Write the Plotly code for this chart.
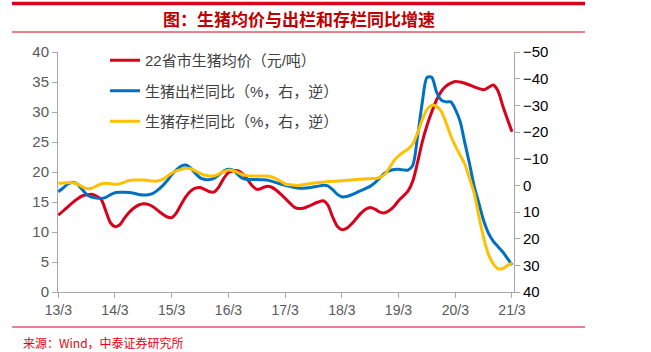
import pandas as pd
import plotly.graph_objects as go

# ---------------- data (monthly, 2013/3 .. 2021/3) ----------------
months = pd.date_range("2013-03-01", "2021-03-01", freq="MS")

price_22 = [  # 22省市生猪均价（元/吨）, left axis
    12.8, 13.5, 14.2, 14.9, 15.5, 16.0, 16.2, 16.3, 16.0, 15.5, 13.5, 11.5,
    10.9, 11.2, 12.3, 13.3, 14.0, 14.5, 14.7, 14.6, 14.2, 13.6, 13.0, 12.5,
    12.4, 13.2, 14.6, 15.9, 16.8, 17.3, 17.4, 17.1, 16.7, 16.7, 17.6, 19.0,
    19.9, 20.2, 20.2, 19.7, 18.8, 17.7, 17.1, 17.3, 17.6, 17.5, 17.0, 16.3,
    15.6, 14.8, 14.1, 13.9, 14.0, 14.3, 14.7, 15.0, 15.2, 14.5, 12.5, 10.9,
    10.4, 10.6, 11.3, 12.2, 13.1, 13.8, 14.1, 13.8, 13.3, 13.2, 13.6, 14.3,
    15.2, 16.0, 16.8, 18.5, 21.5, 25.0, 27.8, 30.0, 32.0, 33.4, 34.3, 34.8,
    35.1, 35.0, 34.8, 34.5, 34.2, 33.9, 33.7, 34.1, 34.5, 33.5, 31.0, 28.7,
    26.7,
]

slaughter_yoy = [  # 生猪出栏同比（%，右，逆）
    2.4, 1.0, -0.5, -1.2, -0.5, 1.5, 3.5, 4.4, 4.8, 4.9, 4.5, 3.5,
    2.8, 2.6, 2.6, 2.7, 3.0, 3.4, 3.6, 3.5, 3.0, 1.8, 0.2, -1.8,
    -4.0, -5.8, -7.2, -7.6, -6.5, -4.5, -2.8, -2.2, -2.2, -2.7, -4.0, -5.4,
    -6.0, -5.6, -4.0, -2.6, -2.2, -2.2, -2.2, -2.1, -2.0, -1.6, -1.0, -0.5,
    0.0, 0.4, 0.8, 1.1, 1.1, 0.9, 0.6, 0.3, 0.0, 0.2, 1.6, 3.4,
    4.3, 4.2, 3.6, 2.8, 2.0, 1.2, 0.3, -1.0, -2.8, -4.5, -5.4, -5.9,
    -6.0, -5.8, -5.7, -7.5, -18.0, -31.0, -40.5, -40.5, -35.0, -32.0, -31.3, -31.3,
    -28.5, -24.0, -16.0, -8.0, 0.5, 7.0, 13.5, 18.0, 21.0, 23.0, 25.0, 27.5,
    29.9,
]

stock_yoy = [  # 生猪存栏同比（%，右，逆）
    -0.75, -0.9, -1.0, -1.0, -0.5, 0.5, 1.3, 1.1, 0.3, -0.5, -0.8, -0.6,
    -0.4, -0.6, -1.2, -1.8, -2.0, -2.0, -2.0, -1.8, -1.6, -1.6, -2.2, -3.4,
    -4.5, -5.4, -6.0, -6.4, -6.2, -5.4, -4.5, -3.8, -3.5, -3.6, -4.3, -5.2,
    -5.7, -5.5, -4.8, -4.0, -3.6, -3.5, -3.5, -3.5, -3.5, -3.2, -2.5, -1.5,
    -0.5, -0.2, 0.0, 0.0, -0.3, -0.6, -0.9, -1.0, -1.2, -1.4, -1.5, -1.6,
    -1.7, -1.9, -2.0, -2.2, -2.3, -2.4, -2.5, -2.6, -3.0, -4.0, -6.5, -9.3,
    -11.0, -12.4, -13.6, -15.5, -19.5, -24.5, -28.5, -30.0, -29.6, -27.8, -23.5, -18.5,
    -14.8, -11.3, -8.0, -2.5, 3.0, 12.0, 20.0, 26.0, 29.5, 31.3, 31.2, 30.0,
    29.2,
]

tick_years = list(range(2013, 2022))
tick_vals = [f"{y}-03-01" for y in tick_years]
tick_text = [f"{y % 100}/3" for y in tick_years]

names = ["22省市生猪均价（元/吨）", "生猪出栏同比（%，右，逆）", "生猪存栏同比（%，右，逆）"]
colors = ["#D9001B", "#0070C0", "#FFC000"]

# ---------------- figure ----------------
W, H = 651, 352
L, R, T, B = 58, 514, 52, 292  # plot area in pixels


def px(xp):
    return (xp - L) / (R - L)


def py(yp):
    return (B - yp) / (B - T)


fig = go.Figure()
fig.add_trace(go.Scatter(x=months, y=price_22, name=names[0], mode="lines",
                         line=dict(color=colors[0], width=3, shape="spline", smoothing=0.8),
                         legendgroup="a"))
fig.add_trace(go.Scatter(x=months, y=slaughter_yoy, name=names[1], mode="lines",
                         line=dict(color=colors[1], width=3, shape="spline", smoothing=0.8),
                         yaxis="y2", legendgroup="b"))
fig.add_trace(go.Scatter(x=months, y=stock_yoy, name=names[2], mode="lines",
                         line=dict(color=colors[2], width=3, shape="spline", smoothing=0.8),
                         yaxis="y2", legendgroup="c"))

red = "#D9001B"
axis_grey = "#A6A6A6"
num_font = "Liberation Sans, Arial, Noto Sans CJK SC"

fig.update_layout(
    width=W, height=H,
    margin=dict(l=L, r=W - R, t=T, b=H - B, pad=0),
    paper_bgcolor="white", plot_bgcolor="white",
    showlegend=True,
    legend=dict(x=px(105), y=py(44), xanchor="left", yanchor="top",
                font=dict(family=num_font, size=15, color="#404040"),
                bgcolor="rgba(0,0,0,0)", tracegroupgap=8, itemwidth=30),
    title=dict(text="<b>图：生猪均价与出栏和存栏同比增速</b>",
               x=299 / W, y=1 - 20 / H, xref="container", yref="container",
               xanchor="center", yanchor="middle",
               font=dict(family="Noto Sans CJK SC", size=17, color="#C00000")),
    xaxis=dict(type="date", range=["2013-02-27", "2021-03-14"],
               tickmode="array", tickvals=tick_vals, ticktext=tick_text,
               showline=True, linecolor=axis_grey, linewidth=1,
               ticks="outside", ticklen=5, tickcolor=axis_grey,
               showgrid=False, zeroline=False,
               tickfont=dict(family=num_font, size=14, color="#595959")),
    yaxis=dict(range=[0, 40], dtick=5, showline=True, linecolor=axis_grey, linewidth=1,
               ticks="outside", ticklen=5, tickcolor=axis_grey,
               showgrid=False, zeroline=False,
               tickfont=dict(family=num_font, size=15, color="#595959")),
    yaxis2=dict(range=[40, -50], dtick=10, overlaying="y", side="right",
                showline=True, linecolor=axis_grey, linewidth=1,
                ticks="outside", ticklen=5, tickcolor=axis_grey,
                showgrid=False, zeroline=False,
                tickfont=dict(family=num_font, size=15, color="#000000")),
)

# decorative header / footer rules
fig.add_shape(type="line", xref="paper", yref="paper", x0=px(12), x1=px(585),
              y0=py(3.5), y1=py(3.5), line=dict(color=red, width=3.5))
fig.add_shape(type="line", xref="paper", yref="paper", x0=px(12), x1=px(585),
              y0=py(32), y1=py(32), line=dict(color=red, width=1))
fig.add_shape(type="line", xref="paper", yref="paper", x0=px(12), x1=px(585),
              y0=py(327), y1=py(327), line=dict(color=red, width=1))

fig.add_annotation(text="来源：Wind，中泰证券研究所", xref="paper", yref="paper",
                   x=px(21), y=py(342), xanchor="left", yanchor="middle", showarrow=False,
                   font=dict(family="Noto Sans CJK SC", size=12, color="#E60012"))

fig.write_html("out.html")
